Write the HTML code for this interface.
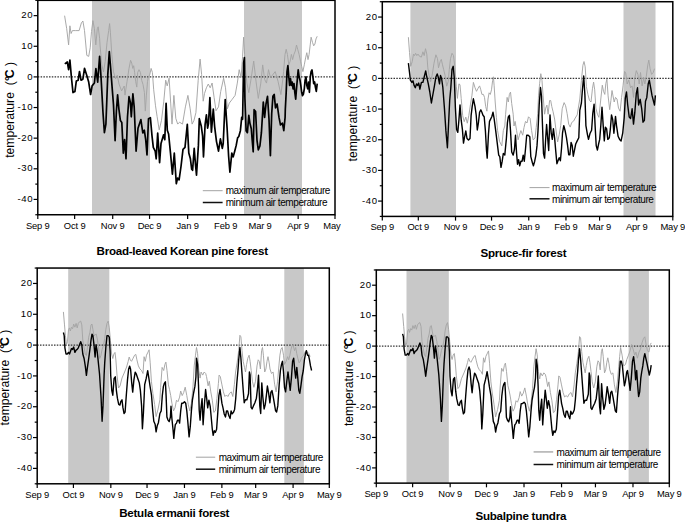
<!DOCTYPE html>
<html><head><meta charset="utf-8"><style>
html,body{margin:0;padding:0;background:#fff;}
svg{display:block;}
text{font-family:"Liberation Sans",sans-serif;fill:#000;}
.tk{font-size:9.4px;letter-spacing:-0.15px;}
.ty{font-size:9.6px;letter-spacing:0.6px;}
.lg{font-size:10px;letter-spacing:-0.42px;}
.yl{font-size:12.2px;}
.tt{font-size:11.6px;font-weight:bold;letter-spacing:-0.25px;}
</style></head><body>
<svg width="685" height="523" viewBox="0 0 685 523">
<rect width="685" height="523" fill="#fff"/>
<rect x="92" y="0.33" width="58" height="214.41" fill="#c8c8c8"/>
<rect x="244" y="0.33" width="58" height="214.41" fill="#c8c8c8"/>
<line x1="37.8" y1="76.9" x2="335" y2="76.9" stroke="#333" stroke-width="1.4" stroke-dasharray="1.5 1.3"/>
<path d="M64.6,15.7 L66.7,28.7 L68.6,44.9 L69.9,25.8 L71.1,33.5 L72.4,30.6 L75.3,30.6 L79.1,30.6 L81.4,22.9 L82.9,21 L84.5,30.6 L86.8,55.4 L88.7,56.4 L90.2,47.8 L91.5,31.5 L92.9,20.6 L94.4,28.7 L95.8,44.9 L97.3,28.7 L98.2,26.8 L99.6,38.2 L100.1,46 L101.8,65 L103.5,71.9 L105.2,61.6 L107,42.6 L108.7,30.5 L109.6,23.6 L110.4,32.2 L111.8,54.7 L113.5,71.9 L115.6,78.8 L117.3,75.3 L119,84 L121.6,90.9 L124.2,86 L125,95.1 L127,81.7 L129,68.4 L130.6,60.3 L131.7,63 L132.8,68.4 L133.7,65.7 L134.6,72.4 L135.7,81.7 L136.8,87.1 L137.7,72.4 L139,69.7 L140.4,72.4 L141.7,80.4 L143,84.4 L144.4,92.4 L145.3,111.1 L146.4,95.1 L147.5,81.7 L148.4,76.4 L149.7,75.1 L151.1,68.4 L152.4,72.4 L153.7,89.8 L155.5,105.8 L157.1,116.5 L159.2,129.9 L161.5,120.3 L163.8,101.2 L165.7,80.2 L167.2,85.9 L169.1,78.2 L170.7,103.1 L172,124.1 L173.9,95.4 L175.8,118.4 L177.7,124.1 L179.6,122.2 L182.5,124.1 L185.4,106.9 L187.9,95.4 L190.2,108.8 L192.1,124.1 L194,120.3 L195.9,112.7 L198.2,80.2 L200.1,59.1 L201.6,74.4 L203.2,101.2 L204.5,93.5 L206.4,87.8 L208.3,84 L210.2,87.8 L212.1,83 L214.1,97.4 L216,110.7 L218.5,106.9 L220.7,91.6 L223.6,78.2 L225.5,87.8 L227.4,108.8 L229.3,103.1 L232.2,99.3 L235.1,95.4 L237.3,83.1 L239.2,69.7 L241.1,77.4 L242.6,56.3 L243.6,37.2 L244.6,54.4 L245.5,69.7 L246.9,83.1 L248.8,92.7 L251.3,77.4 L253.7,61.1 L256,81.2 L258.3,98.4 L260.8,83.1 L262.7,64.9 L264.6,79.3 L266.5,83.1 L268.5,69.7 L270.4,77.4 L272.3,75.4 L275.2,71.6 L278,81.2 L280.9,94.6 L282.8,79.3 L283.6,71.6 L285,54.4 L286.2,49.3 L287.4,54.4 L288.8,64.8 L290.1,61.3 L291.4,54.4 L292.6,59.6 L293.9,54.4 L295.3,51 L296.5,45 L297.7,49.3 L299.1,54.4 L300.5,61.3 L301.7,66.5 L302.9,71.6 L304.3,64.8 L305.6,57.9 L306.8,52.7 L308,59.6 L309.1,54.4 L310.3,44.1 L311.1,37.2 L312.5,42.4 L313.7,45.8 L314.9,44.1 L316,38.9 L317.2,36.3" fill="none" stroke="#a4a4a4" stroke-width="0.95" stroke-linejoin="round"/>
<path d="M64.8,63.9 L67.3,62 L68.6,69.6 L69.9,60.1 L71.5,78.2 L73,92.6 L74.9,91.6 L76.3,81.1 L78.2,80.2 L79.5,71.5 L81,80.2 L82.9,79.2 L84.5,68.3 L86.8,75.4 L88.7,82.1 L90.6,94.5 L92.1,85.9 L94.4,83 L95.9,68.7 L97.7,82.1 L99.6,56.3 L101.1,78.2 L103,112.7 L104.4,132.7 L105.9,124.1 L107.8,74.4 L109.3,51.5 L110.7,68.7 L112,85.9 L113.5,105 L115.1,140.7 L116.4,111 L117.6,94.8 L118.9,109.1 L120.4,120.6 L121.8,122.5 L123.3,153.1 L124.6,139.7 L126,158.8 L127.5,116.8 L129,96.7 L130.4,102.4 L131.3,116.8 L132.9,93.8 L134.2,107.2 L136.1,151.2 L138,128.2 L140.9,119.6 L142.8,133 L144.3,130.2 L145.7,139.7 L147,155 L148.5,118.7 L150.4,117.7 L152,135.9 L153.3,147.4 L155.2,151.2 L156.2,158.8 L157.7,133 L159.6,162.7 L161,143.5 L163.5,134.9 L164.8,139.7 L166.1,103.4 L167.3,130.2 L168.6,134 L170.5,153.1 L172.4,174.1 L174.3,153.1 L176.3,183.7 L177.6,178 L179.1,179.9 L181,166.5 L183,149.3 L185,147.4 L187.3,124.4 L188.8,153.1 L190.4,158.8 L191.7,169.3 L192.6,170.3 L194.2,148.3 L195.5,164.6 L196.5,175.1 L198.4,145.4 L199.3,118.7 L201.3,126.3 L202.6,135.9 L203.5,156.9 L205.1,124.4 L206.4,114.9 L207.6,128.2 L208.5,123.5 L209.9,97.6 L211.4,132.1 L213.3,109.1 L214.6,126.3 L216.5,141.6 L218.5,151.2 L220.4,138.8 L222.3,148.3 L223.2,143.5 L225.2,99.6 L227.1,128.2 L228.6,156 L229.9,172.2 L231.8,153.1 L233.2,156.9 L234.7,151.2 L236.2,145.4 L237.6,137.8 L238.8,136.5 L240.4,130.7 L241.7,117.4 L242.6,119.3 L243.6,63 L244.4,57.5 L244.9,98.2 L246.1,130.7 L247.4,132.7 L248.8,115.4 L249.9,123.1 L251.3,128.8 L252.2,140.3 L253.2,151.8 L254.1,109.7 L255.6,111.6 L257,140.3 L258.3,149.9 L259.9,146 L261.4,132.7 L263.3,102.1 L264.6,117.4 L266,104 L267.5,96.3 L269,119.3 L270.4,155.6 L271.7,113.5 L272.9,96.3 L274.2,94.4 L275.5,107.8 L277.1,104 L279,117.4 L280.5,125 L282.4,123.1 L283.8,130.7 L285.1,117.4 L285.3,109.5 L286.2,92.3 L287,71.6 L287.9,65.6 L288.8,76.8 L289.6,85.4 L290.5,78.5 L291.4,85.4 L292.2,82 L293.1,88.8 L294,83.7 L294.8,92.3 L295.7,99.2 L296.5,88.8 L297.4,78.5 L298.2,69.9 L299.1,76.8 L300,80.2 L300.8,85.4 L301.7,92.3 L302.5,95.7 L303.4,94 L304.3,88.8 L305.1,80.2 L306,76.8 L306.8,85.4 L307.7,88.8 L308.6,82 L309.4,92.3 L310.3,76.8 L311.1,71.6 L312,69.9 L312.9,76.8 L313.7,83.7 L314.6,82 L315.4,87.1 L316.3,91.4 L317.2,83.7" fill="none" stroke="#000" stroke-width="1.7" stroke-linejoin="round"/>
<rect x="37.8" y="0.33" width="297.2" height="214.41" fill="none" stroke="#000" stroke-width="1.5"/>
<line x1="35.3" y1="214.74" x2="37.8" y2="214.74" stroke="#000" stroke-width="1.2"/>
<line x1="33.6" y1="199.42" x2="37.8" y2="199.42" stroke="#000" stroke-width="1.2"/>
<text x="33.2" y="202.07" class="ty" text-anchor="end">-40</text>
<line x1="35.3" y1="184.11" x2="37.8" y2="184.11" stroke="#000" stroke-width="1.2"/>
<line x1="33.6" y1="168.79" x2="37.8" y2="168.79" stroke="#000" stroke-width="1.2"/>
<text x="33.2" y="171.44" class="ty" text-anchor="end">-30</text>
<line x1="35.3" y1="153.48" x2="37.8" y2="153.48" stroke="#000" stroke-width="1.2"/>
<line x1="33.6" y1="138.16" x2="37.8" y2="138.16" stroke="#000" stroke-width="1.2"/>
<text x="33.2" y="140.81" class="ty" text-anchor="end">-20</text>
<line x1="35.3" y1="122.84" x2="37.8" y2="122.84" stroke="#000" stroke-width="1.2"/>
<line x1="33.6" y1="107.53" x2="37.8" y2="107.53" stroke="#000" stroke-width="1.2"/>
<text x="33.2" y="110.18" class="ty" text-anchor="end">-10</text>
<line x1="35.3" y1="92.22" x2="37.8" y2="92.22" stroke="#000" stroke-width="1.2"/>
<line x1="33.6" y1="76.9" x2="37.8" y2="76.9" stroke="#000" stroke-width="1.2"/>
<text x="33.2" y="79.55" class="ty" text-anchor="end">0</text>
<line x1="35.3" y1="61.59" x2="37.8" y2="61.59" stroke="#000" stroke-width="1.2"/>
<line x1="33.6" y1="46.27" x2="37.8" y2="46.27" stroke="#000" stroke-width="1.2"/>
<text x="33.2" y="48.92" class="ty" text-anchor="end">10</text>
<line x1="35.3" y1="30.96" x2="37.8" y2="30.96" stroke="#000" stroke-width="1.2"/>
<line x1="33.6" y1="15.64" x2="37.8" y2="15.64" stroke="#000" stroke-width="1.2"/>
<text x="33.2" y="18.29" class="ty" text-anchor="end">20</text>
<line x1="35.3" y1="0.33" x2="37.8" y2="0.33" stroke="#000" stroke-width="1.2"/>
<line x1="37.8" y1="214.74" x2="37.8" y2="218.94" stroke="#000" stroke-width="1.2"/>
<text x="37.8" y="228.74" class="tk" text-anchor="middle">Sep 9</text>
<line x1="74.64" y1="214.74" x2="74.64" y2="218.94" stroke="#000" stroke-width="1.2"/>
<text x="74.64" y="228.74" class="tk" text-anchor="middle">Oct 9</text>
<line x1="112.71" y1="214.74" x2="112.71" y2="218.94" stroke="#000" stroke-width="1.2"/>
<text x="112.71" y="228.74" class="tk" text-anchor="middle">Nov 9</text>
<line x1="149.56" y1="214.74" x2="149.56" y2="218.94" stroke="#000" stroke-width="1.2"/>
<text x="149.56" y="228.74" class="tk" text-anchor="middle">Dec 9</text>
<line x1="187.63" y1="214.74" x2="187.63" y2="218.94" stroke="#000" stroke-width="1.2"/>
<text x="187.63" y="228.74" class="tk" text-anchor="middle">Jan 9</text>
<line x1="225.7" y1="214.74" x2="225.7" y2="218.94" stroke="#000" stroke-width="1.2"/>
<text x="225.7" y="228.74" class="tk" text-anchor="middle">Feb 9</text>
<line x1="260.09" y1="214.74" x2="260.09" y2="218.94" stroke="#000" stroke-width="1.2"/>
<text x="260.09" y="228.74" class="tk" text-anchor="middle">Mar 9</text>
<line x1="298.16" y1="214.74" x2="298.16" y2="218.94" stroke="#000" stroke-width="1.2"/>
<text x="298.16" y="228.74" class="tk" text-anchor="middle">Apr 9</text>
<line x1="335" y1="214.74" x2="335" y2="218.94" stroke="#000" stroke-width="1.2"/>
<text x="323.3" y="228.74" class="tk">May</text>
<line x1="202.8" y1="190.7" x2="222.6" y2="190.7" stroke="#999" stroke-width="0.9"/>
<line x1="202.8" y1="202.5" x2="222.6" y2="202.5" stroke="#111" stroke-width="1.5"/>
<text x="225.7" y="194.4" class="lg">maximum air temperature</text>
<text x="225.7" y="206.2" class="lg">minimum air temperature</text>
<text transform="translate(14,157.8) rotate(-90)" class="yl" xml:space="preserve" style="white-space:pre">temperature  (<tspan dx="0.3" font-weight="bold">°</tspan><tspan dx="-2.2" font-weight="bold">C</tspan> )</text>
<text x="182.2" y="254.5" class="tt" text-anchor="middle">Broad-leaved Korean pine forest</text>
<rect x="410.4" y="1.72" width="45.6" height="214.69" fill="#c8c8c8"/>
<rect x="623.5" y="1.72" width="32" height="214.69" fill="#c8c8c8"/>
<line x1="382.3" y1="78.4" x2="672.8" y2="78.4" stroke="#333" stroke-width="1.4" stroke-dasharray="1.5 1.3"/>
<path d="M408.4,37.2 L409.5,52.5 L410.7,66.3 L412.2,61.7 L413.5,54.1 L414.5,55.6 L415.6,53.3 L416.8,55.6 L418,54.1 L419.6,56.4 L421.4,57.1 L422.9,51.8 L424.2,55.6 L425.5,48.7 L426.8,54.1 L427.8,67.8 L429.1,75.5 L430.6,81.6 L432.1,75.5 L434,63.2 L435.9,54.8 L437.5,58.7 L438.5,67.8 L440.1,61.7 L441.3,59.4 L442.5,64.8 L443.6,69.4 L445.1,75.5 L446.7,86.2 L448.2,81.6 L449.3,69.4 L450.5,58.7 L452,53.3 L453.5,55.6 L455.1,69.4 L456.3,86.2 L457.4,98.4 L458.9,83.9 L460,84.7 L461.2,98.4 L462.7,115.6 L464.2,121.7 L465.8,117.1 L467.3,123.2 L468.8,115.6 L470.4,104.9 L471.9,95.7 L473.4,82.4 L475,87.7 L476.5,91.3 L478.1,88.2 L479.6,85.9 L480.8,89.8 L481.9,94.4 L483.4,94.4 L484.5,97.4 L485.7,106.6 L486.9,111.2 L488,99 L489.1,92.8 L490.3,94.4 L491.5,89.8 L492.6,80.6 L493.4,76.8 L494.1,85.2 L495.2,102 L496.4,117.3 L497.6,130.6 L499.5,141.3 L501.8,145.9 L503.3,130.6 L504.8,126 L505.6,114.2 L507.1,97.4 L508.3,102 L509.4,94.4 L510.5,92.1 L511.7,103.5 L513.2,114.2 L514,126 L515.1,121.4 L516.6,130.6 L518.1,139.8 L519.4,135.2 L520.9,130.6 L522.7,135.2 L524,127.5 L525.5,121.4 L527,123 L528.5,116.8 L530.1,118.4 L531.6,130.6 L533.1,139.8 L535,138.2 L536.2,127.5 L537.7,113.8 L538.5,95.9 L539.6,83.7 L540.8,73.7 L542,80.6 L543.1,95.9 L544.6,114.2 L545.7,108.1 L546.9,105.1 L548.1,114.2 L549.6,100.5 L550.7,100.5 L551.8,106.6 L553.1,111.8 L554.6,119 L556.1,131 L557.6,142 L559.2,134.8 L560.7,125.6 L562.2,108.8 L564.1,102.6 L565.6,105.7 L567.1,113.4 L568.7,124.1 L570.2,127.1 L571.7,122.5 L573.7,121 L575.2,118 L577.2,114.9 L578.3,108.1 L579.8,99 L581.4,80.6 L582.9,65.3 L584,61.5 L585.2,66.8 L586.4,86.7 L587.9,94.4 L589.5,100.5 L591,102 L592.5,88.2 L593.6,82.1 L594.7,89.8 L595.9,108.1 L597.4,114.2 L598.9,117.3 L600.8,99 L602.3,85.2 L603.5,91.3 L604.8,94.4 L605.8,83.7 L606.9,79.1 L608.1,95.9 L609.7,109.7 L610.9,100.5 L612,90.5 L613,95.9 L614.2,102 L615.5,97.4 L617,99 L618.5,108.1 L620.1,111.2 L621.6,97.4 L623.1,85.2 L624.6,71.4 L625.7,72.9 L627.2,84 L628.8,80 L630.6,87.8 L632.1,85.9 L633.5,97.4 L634.8,78.2 L636.3,70.6 L637.9,74.4 L639.2,84 L640.5,72.5 L642.1,85.9 L643.6,78.2 L644.9,84 L646.3,76.3 L647.8,64.9 L648.8,60.1 L650.1,68.7 L651.6,74.4 L653.2,72.5 L654.5,68.7" fill="none" stroke="#a4a4a4" stroke-width="0.95" stroke-linejoin="round"/>
<path d="M408.4,63.2 L409.5,72.4 L410.4,80.1 L411.9,82.4 L413,80.8 L414.1,85.4 L415.3,87.7 L416.5,83.9 L417.6,85.4 L418.7,83.1 L419.9,89.2 L421.4,82.4 L422.9,82.4 L424.2,77 L425.7,70.9 L426.8,77 L428.3,83.9 L429.8,92 L431.4,103 L432.9,94.5 L434.4,86.2 L435.9,77 L437.2,73.9 L438.2,77 L439.5,83.9 L440.5,75.5 L441.6,78.5 L442.8,87 L444.4,107.9 L445.9,130.9 L447.4,147.7 L448.6,123.2 L449.7,100.3 L450.8,88.1 L452,69.4 L453.2,66.3 L454.3,78 L455.4,107.9 L456.6,129.4 L457.8,132.4 L458.9,120.2 L460,104.9 L461.2,120.2 L462.4,129.4 L463.5,143.1 L464.6,137 L465.8,130.9 L467,138.5 L468.5,140.1 L470,138.5 L471.1,115.6 L472.2,106.4 L473.4,98.8 L475,106.4 L476.2,115 L477.3,130 L478.4,123 L479.6,112.2 L480.8,109.9 L481.9,112.2 L483,115.3 L484.2,116.8 L485.4,130.6 L486.5,150.5 L487.2,158.1 L488.5,133.7 L489.5,121.4 L490.6,119.1 L491.8,116.8 L493,112.2 L494.1,118.4 L495.7,130.6 L497.2,142.8 L498.7,155.1 L499.8,156.6 L501,167.3 L502.2,161.2 L503.3,153.5 L504.8,155.1 L506.4,138.2 L507.4,122.9 L508.3,116.8 L509.4,115.3 L510.5,130.6 L511.7,152 L513.2,155.1 L514.5,149 L515.5,135.2 L516.6,153.5 L517.5,164.2 L518.6,159.7 L519.7,165.8 L520.9,161.2 L522.1,161.2 L523.2,155.1 L524.3,161.2 L525.5,149 L526.7,135.2 L528.2,135.2 L529.8,136.7 L530.8,156.6 L532.4,162.7 L533.4,165.8 L534.7,161.2 L535.9,155.1 L537,145.9 L538,130.6 L539.2,105 L540.5,87.5 L541.5,96 L542.3,120 L543.5,153.5 L544.6,158.1 L545.7,138.2 L546.6,124.5 L547.7,138.2 L548.7,150.5 L550,114.9 L551.2,133.2 L552.3,139.4 L553.4,128.7 L554.6,137.8 L555.8,151.6 L556.9,163.8 L558,160.8 L559.2,157.7 L560.4,160.8 L561.5,148.5 L562.5,133.2 L563.8,125.6 L565,130.2 L566.5,137.8 L567.6,145.5 L568.7,154.7 L569.9,154.7 L571.1,142.4 L572.2,145.5 L573.3,156.2 L574.5,150.1 L575.7,144 L577.2,140.9 L578.8,137.8 L579.8,110.3 L581.4,103 L582.4,90 L583.7,76 L584.9,95 L585.9,125.6 L587.5,134.8 L588.5,139.4 L590.1,133.2 L591.6,130.2 L592.8,113.4 L594.1,104.2 L595.1,125.6 L596.2,145.5 L597.4,150.1 L598.6,144 L599.7,139.4 L600.8,125.6 L602,107.2 L603.2,125.6 L604.3,140.9 L605.4,127.1 L606.6,128.7 L607.8,139.4 L609.3,137.8 L610.4,128.7 L611.5,114.9 L612.7,119.5 L613.9,133.2 L615.5,116.4 L616.5,125.6 L618.1,136.3 L619.6,139.4 L621.1,140.9 L622.7,133.2 L624.2,117.9 L625.3,98.1 L626.5,92 L627.7,105 L629.2,117 L630.6,118.4 L632.1,108.8 L633.5,124.1 L634.8,112.7 L636.3,93.5 L637.5,87.8 L638.6,105 L640.2,99.3 L641.7,108.8 L643,122.2 L644.4,120.3 L645.5,101.2 L646.8,97.4 L648.2,84 L649.3,80.2 L650.7,87.8 L652,95.4 L653.5,101.2 L654.5,105 L655.4,95.4" fill="none" stroke="#000" stroke-width="1.4" stroke-linejoin="round"/>
<rect x="382.3" y="1.72" width="290.5" height="214.69" fill="none" stroke="#000" stroke-width="1.5"/>
<line x1="379.8" y1="216.42" x2="382.3" y2="216.42" stroke="#000" stroke-width="1.2"/>
<line x1="378.1" y1="201.08" x2="382.3" y2="201.08" stroke="#000" stroke-width="1.2"/>
<text x="377.7" y="203.73" class="ty" text-anchor="end">-40</text>
<line x1="379.8" y1="185.75" x2="382.3" y2="185.75" stroke="#000" stroke-width="1.2"/>
<line x1="378.1" y1="170.41" x2="382.3" y2="170.41" stroke="#000" stroke-width="1.2"/>
<text x="377.7" y="173.06" class="ty" text-anchor="end">-30</text>
<line x1="379.8" y1="155.08" x2="382.3" y2="155.08" stroke="#000" stroke-width="1.2"/>
<line x1="378.1" y1="139.74" x2="382.3" y2="139.74" stroke="#000" stroke-width="1.2"/>
<text x="377.7" y="142.39" class="ty" text-anchor="end">-20</text>
<line x1="379.8" y1="124.41" x2="382.3" y2="124.41" stroke="#000" stroke-width="1.2"/>
<line x1="378.1" y1="109.07" x2="382.3" y2="109.07" stroke="#000" stroke-width="1.2"/>
<text x="377.7" y="111.72" class="ty" text-anchor="end">-10</text>
<line x1="379.8" y1="93.74" x2="382.3" y2="93.74" stroke="#000" stroke-width="1.2"/>
<line x1="378.1" y1="78.4" x2="382.3" y2="78.4" stroke="#000" stroke-width="1.2"/>
<text x="377.7" y="81.05" class="ty" text-anchor="end">0</text>
<line x1="379.8" y1="63.07" x2="382.3" y2="63.07" stroke="#000" stroke-width="1.2"/>
<line x1="378.1" y1="47.73" x2="382.3" y2="47.73" stroke="#000" stroke-width="1.2"/>
<text x="377.7" y="50.38" class="ty" text-anchor="end">10</text>
<line x1="379.8" y1="32.4" x2="382.3" y2="32.4" stroke="#000" stroke-width="1.2"/>
<line x1="378.1" y1="17.06" x2="382.3" y2="17.06" stroke="#000" stroke-width="1.2"/>
<text x="377.7" y="19.71" class="ty" text-anchor="end">20</text>
<line x1="379.8" y1="1.72" x2="382.3" y2="1.72" stroke="#000" stroke-width="1.2"/>
<line x1="382.3" y1="216.42" x2="382.3" y2="220.62" stroke="#000" stroke-width="1.2"/>
<text x="382.3" y="230.42" class="tk" text-anchor="middle">Sep 9</text>
<line x1="418.31" y1="216.42" x2="418.31" y2="220.62" stroke="#000" stroke-width="1.2"/>
<text x="418.31" y="230.42" class="tk" text-anchor="middle">Oct 9</text>
<line x1="455.53" y1="216.42" x2="455.53" y2="220.62" stroke="#000" stroke-width="1.2"/>
<text x="455.53" y="230.42" class="tk" text-anchor="middle">Nov 9</text>
<line x1="491.54" y1="216.42" x2="491.54" y2="220.62" stroke="#000" stroke-width="1.2"/>
<text x="491.54" y="230.42" class="tk" text-anchor="middle">Dec 9</text>
<line x1="528.75" y1="216.42" x2="528.75" y2="220.62" stroke="#000" stroke-width="1.2"/>
<text x="528.75" y="230.42" class="tk" text-anchor="middle">Jan 9</text>
<line x1="565.96" y1="216.42" x2="565.96" y2="220.62" stroke="#000" stroke-width="1.2"/>
<text x="565.96" y="230.42" class="tk" text-anchor="middle">Feb 9</text>
<line x1="599.57" y1="216.42" x2="599.57" y2="220.62" stroke="#000" stroke-width="1.2"/>
<text x="599.57" y="230.42" class="tk" text-anchor="middle">Mar 9</text>
<line x1="636.79" y1="216.42" x2="636.79" y2="220.62" stroke="#000" stroke-width="1.2"/>
<text x="636.79" y="230.42" class="tk" text-anchor="middle">Apr 9</text>
<line x1="672.8" y1="216.42" x2="672.8" y2="220.62" stroke="#000" stroke-width="1.2"/>
<text x="672.8" y="230.42" class="tk" text-anchor="middle">May 9</text>
<line x1="529.5" y1="187.6" x2="549.5" y2="187.6" stroke="#999" stroke-width="0.9"/>
<line x1="529.5" y1="198.8" x2="549.5" y2="198.8" stroke="#111" stroke-width="1.5"/>
<text x="552" y="191.3" class="lg">maximum air temperature</text>
<text x="552" y="202.5" class="lg">minimum air temperature</text>
<text transform="translate(357.2,161.5) rotate(-90)" class="yl" xml:space="preserve" style="white-space:pre">temperature  (<tspan dx="0.3" font-weight="bold">°</tspan><tspan dx="-2.2" font-weight="bold">C</tspan> )</text>
<text x="523.4" y="256.9" class="tt" text-anchor="middle">Spruce-fir forest</text>
<rect x="68.2" y="268.05" width="41.1" height="215.74" fill="#c8c8c8"/>
<rect x="284.3" y="268.05" width="19.6" height="215.74" fill="#c8c8c8"/>
<line x1="37.2" y1="345.1" x2="329.3" y2="345.1" stroke="#333" stroke-width="1.4" stroke-dasharray="1.5 1.3"/>
<path d="M63.4,311.9 L64.5,324.9 L65.4,335.6 L66.5,344.8 L67.5,341.7 L68.5,329.5 L69.5,327.9 L70.3,331 L71.5,327.2 L72.6,328.7 L73.7,324.1 L74.9,327.2 L76.1,323.4 L77.2,327.9 L78.3,323.4 L79.5,321.8 L80.7,321.1 L81.8,324.9 L82.8,340.2 L84.1,347.8 L85.3,354 L86.4,355.5 L87.4,347.8 L88.7,337.1 L89.9,332.5 L91,324.9 L92,324.1 L92.9,329.5 L94,335.6 L95.1,334.8 L96.3,334.1 L97.5,340.2 L98.6,347.8 L99.7,358.5 L100.9,355.5 L102.1,349.4 L103.6,344.8 L104.7,338.7 L105.8,329.5 L107,323.4 L108.2,321.1 L109.3,327.9 L110.4,340.2 L111.6,354 L112.8,358.5 L113.9,354 L115,352.4 L115.9,360.1 L117,375 L118.5,388 L120,386 L122,378 L124.6,372 L126.6,367 L128.1,361.6 L129.2,357 L130.3,360.1 L131.5,361.3 L133.1,358.2 L134.6,355.2 L135.8,354.4 L136.9,359.8 L138.4,365.9 L139.9,368.9 L141.5,370.5 L143,373.5 L144.1,356.7 L145.3,361.3 L146.5,355.2 L148,352.1 L149.1,349.8 L150.2,362.8 L151.4,381.2 L152.9,393.4 L154.6,404.4 L156.1,416.6 L158.1,409 L159.9,399.8 L160.6,387.3 L162.1,367.4 L163.7,370.5 L164.9,364.4 L165.9,362.1 L167,370.5 L168.4,384.9 L169.5,389.5 L170.7,395.6 L171.9,403.2 L173.5,410.9 L175,407.8 L176.5,400.2 L178,401.7 L179.6,397.1 L180.7,391 L182.2,395.6 L183.7,392.5 L185.2,387.2 L186.8,395.6 L188.3,404.8 L189.8,410.9 L191.4,403.2 L192.9,388 L194.2,365.9 L195.5,355.2 L196.5,347.5 L197.6,353.7 L198.8,370.5 L200.1,378.1 L201.1,372 L202.7,375.1 L204.2,372 L205.7,373.5 L206.5,376.6 L208.1,385.8 L209.3,381.2 L210.8,391.9 L212.3,400.2 L213.8,412.4 L215.4,410.9 L216.9,398.7 L218.4,383.4 L219.1,375.1 L220.3,376.6 L221.8,384.2 L223.4,391.9 L224.9,396.5 L226.4,395 L227.9,396.5 L229.5,393.4 L231.3,391.9 L232.8,396.5 L234.4,384.2 L235.6,372 L237.1,362.8 L238.7,350.6 L239.9,335.3 L240.9,336.8 L242,350.6 L243.2,361.3 L244.5,367.4 L245.5,372 L246.6,364.4 L247.8,358.2 L249.1,355.2 L250.1,361.3 L251.2,370.5 L252.4,381.2 L253.9,387.3 L255.5,381.2 L257,365.9 L258.2,359.8 L259.3,361.3 L260.4,369 L261.6,350.6 L262.5,347.5 L263.4,355.2 L264.7,372 L265.9,369 L267,361.3 L268,356.7 L269.2,362.8 L270,369 L271.5,373.5 L273.1,372 L274.6,384.2 L276.1,391.9 L277.6,381.2 L278.9,365.9 L279.9,355.2 L281,349.1 L282.2,347.5 L283.5,355.2 L284.5,364.4 L286.1,361.3 L287.6,356.7 L288.7,359.8 L289.9,355.2 L291.1,349.1 L292.2,345.2 L293.3,346 L294.5,350.6 L295.7,347.5 L296.8,353.7 L297.8,358.2 L299.1,362.8 L300.3,361.3 L301.4,358.2 L302.4,356.7 L303.7,355.2 L304.9,352.1 L305.9,350.6 L307.5,352.1 L309,353.7 L310.1,356.7" fill="none" stroke="#a4a4a4" stroke-width="0.95" stroke-linejoin="round"/>
<path d="M63.4,332.5 L64.2,335.6 L64.9,347.8 L66,354 L67.2,354 L68.5,352.4 L69.5,354 L70.6,350.9 L71.5,348.6 L72.6,349.4 L73.7,347.1 L74.9,352.4 L76.1,350.1 L77.2,349.4 L78.3,347.8 L79.5,344.8 L80.7,341.7 L81.8,344.8 L82.8,354 L84.1,358.5 L85.3,366.2 L86.4,375.4 L87.4,367.7 L88.7,358.5 L89.9,349.4 L91,340.2 L92,334.1 L92.9,335.6 L94,344.8 L95.1,357 L96,344.8 L97.1,350.9 L98.1,360.1 L99.5,373.8 L101.1,398.2 L102.1,421.2 L103,405.9 L104.1,375.3 L104.7,363.1 L105.8,347.8 L107,335.6 L108.2,335.6 L109.3,337.1 L110.1,350.9 L110.7,375.3 L111.8,390.6 L112.8,395.2 L114.1,378.4 L115.3,376.8 L116.4,390.6 L117.4,398.2 L118.7,404.4 L119.9,405.1 L120.9,401.3 L122,399.8 L122.9,407.4 L124,413.5 L125.1,412 L126.3,395.2 L127.5,379.9 L128.6,369.2 L129.7,366.1 L130.6,369.2 L131.7,382.9 L132.7,392.1 L133.9,379.9 L135.2,372.2 L136.2,373.8 L137.8,378.4 L139.3,382.9 L140.4,390.6 L141.6,405.9 L142.4,428.8 L143.4,413.5 L144.7,384.5 L146.2,378.4 L147.7,370.7 L148.9,378.4 L150,386 L151.5,395.2 L152.6,409 L153.8,421.2 L155.1,424.2 L156.1,431.9 L157.2,425.8 L158.4,422.7 L159.9,413.5 L161.2,410.9 L162.3,395.6 L163.4,386.4 L164.3,383.4 L165.4,381.8 L166.1,395.6 L166.9,417 L168,420.1 L169.2,421.6 L170.4,417 L171,406.3 L171.9,418.5 L173,429.2 L173.8,438.4 L174.5,430.8 L175.3,424.7 L176.5,423.1 L177.6,420.1 L178.7,420.1 L179.6,423.1 L180.7,410.9 L181.7,403.2 L182.9,403.2 L184.5,401.7 L185.7,403.2 L186.8,410.9 L187.8,421.6 L189.1,436.9 L190.3,426.2 L191.4,410.9 L192.4,400.2 L193.7,392.5 L194.9,386.4 L195.9,377.2 L196.5,358.2 L197.6,364.4 L198.5,385 L199.2,410 L200.1,420.1 L201,407.8 L202.1,398.7 L203.1,424.7 L204.4,404.8 L205.6,389.5 L206.7,398.7 L207.7,407.8 L208.9,400.2 L210.2,406.3 L211.2,417 L212.3,429.2 L213.2,435.4 L214.3,430.8 L215.4,432.3 L216.6,429.2 L217.8,412.4 L218.9,395.6 L220,389.5 L220.9,395.6 L221.9,403.2 L223,407.8 L224.2,413.9 L225.5,417 L226.5,410.9 L227.6,410.9 L228.8,415.5 L230.1,418.5 L231.1,410.9 L232.2,413.9 L233.4,412.4 L234.6,409.4 L235.7,398.7 L236.8,383.4 L238,370 L238.7,359.8 L239.9,347.5 L240.9,358.2 L242,373.5 L243.2,390 L244.2,402.8 L245.4,399.8 L246.9,399.8 L248.5,393.7 L249.4,372 L250.1,375 L251.1,407.4 L252.1,409 L253.4,405.9 L254.9,402.8 L256.4,398.2 L257.6,387.5 L258.5,375.2 L259.8,405.9 L260.7,413.5 L261.8,382.9 L262.8,396.7 L264.1,409 L265.3,404.4 L266.4,395.2 L267.4,386 L268.7,393.7 L269.9,402.8 L270.9,392.1 L272,390.6 L273.2,396.7 L274.5,404.4 L275.5,410.5 L276.6,412 L277.8,405.9 L279.2,384.2 L280.4,370.5 L281.5,364.4 L282.5,361.3 L283.5,372 L284.5,387.3 L285.6,391.9 L286.8,381.2 L288,372 L289.1,381.2 L290.2,390.4 L291.4,378.1 L292.6,361.3 L293.7,358.2 L294.8,370.5 L295.7,378.1 L296.8,367.4 L297.8,378.1 L298.8,390.4 L299.8,393.4 L300.9,385.8 L302.1,376.6 L303.3,370.5 L304.4,359.8 L305.5,353.7 L306.4,350.6 L307.5,355.2 L308.5,355.2 L309.5,359.8 L310.5,365.9 L311.6,370.5" fill="none" stroke="#000" stroke-width="1.4" stroke-linejoin="round"/>
<rect x="37.2" y="268.05" width="292.1" height="215.74" fill="none" stroke="#000" stroke-width="1.5"/>
<line x1="34.7" y1="483.79" x2="37.2" y2="483.79" stroke="#000" stroke-width="1.2"/>
<line x1="33" y1="468.38" x2="37.2" y2="468.38" stroke="#000" stroke-width="1.2"/>
<text x="32.6" y="471.03" class="ty" text-anchor="end">-40</text>
<line x1="34.7" y1="452.97" x2="37.2" y2="452.97" stroke="#000" stroke-width="1.2"/>
<line x1="33" y1="437.56" x2="37.2" y2="437.56" stroke="#000" stroke-width="1.2"/>
<text x="32.6" y="440.21" class="ty" text-anchor="end">-30</text>
<line x1="34.7" y1="422.15" x2="37.2" y2="422.15" stroke="#000" stroke-width="1.2"/>
<line x1="33" y1="406.74" x2="37.2" y2="406.74" stroke="#000" stroke-width="1.2"/>
<text x="32.6" y="409.39" class="ty" text-anchor="end">-20</text>
<line x1="34.7" y1="391.33" x2="37.2" y2="391.33" stroke="#000" stroke-width="1.2"/>
<line x1="33" y1="375.92" x2="37.2" y2="375.92" stroke="#000" stroke-width="1.2"/>
<text x="32.6" y="378.57" class="ty" text-anchor="end">-10</text>
<line x1="34.7" y1="360.51" x2="37.2" y2="360.51" stroke="#000" stroke-width="1.2"/>
<line x1="33" y1="345.1" x2="37.2" y2="345.1" stroke="#000" stroke-width="1.2"/>
<text x="32.6" y="347.75" class="ty" text-anchor="end">0</text>
<line x1="34.7" y1="329.69" x2="37.2" y2="329.69" stroke="#000" stroke-width="1.2"/>
<line x1="33" y1="314.28" x2="37.2" y2="314.28" stroke="#000" stroke-width="1.2"/>
<text x="32.6" y="316.93" class="ty" text-anchor="end">10</text>
<line x1="34.7" y1="298.87" x2="37.2" y2="298.87" stroke="#000" stroke-width="1.2"/>
<line x1="33" y1="283.46" x2="37.2" y2="283.46" stroke="#000" stroke-width="1.2"/>
<text x="32.6" y="286.11" class="ty" text-anchor="end">20</text>
<line x1="34.7" y1="268.05" x2="37.2" y2="268.05" stroke="#000" stroke-width="1.2"/>
<line x1="37.2" y1="483.79" x2="37.2" y2="487.99" stroke="#000" stroke-width="1.2"/>
<text x="37.2" y="497.79" class="tk" text-anchor="middle">Sep 9</text>
<line x1="73.41" y1="483.79" x2="73.41" y2="487.99" stroke="#000" stroke-width="1.2"/>
<text x="73.41" y="497.79" class="tk" text-anchor="middle">Oct 9</text>
<line x1="110.83" y1="483.79" x2="110.83" y2="487.99" stroke="#000" stroke-width="1.2"/>
<text x="110.83" y="497.79" class="tk" text-anchor="middle">Nov 9</text>
<line x1="147.04" y1="483.79" x2="147.04" y2="487.99" stroke="#000" stroke-width="1.2"/>
<text x="147.04" y="497.79" class="tk" text-anchor="middle">Dec 9</text>
<line x1="184.46" y1="483.79" x2="184.46" y2="487.99" stroke="#000" stroke-width="1.2"/>
<text x="184.46" y="497.79" class="tk" text-anchor="middle">Jan 9</text>
<line x1="221.87" y1="483.79" x2="221.87" y2="487.99" stroke="#000" stroke-width="1.2"/>
<text x="221.87" y="497.79" class="tk" text-anchor="middle">Feb 9</text>
<line x1="255.67" y1="483.79" x2="255.67" y2="487.99" stroke="#000" stroke-width="1.2"/>
<text x="255.67" y="497.79" class="tk" text-anchor="middle">Mar 9</text>
<line x1="293.09" y1="483.79" x2="293.09" y2="487.99" stroke="#000" stroke-width="1.2"/>
<text x="293.09" y="497.79" class="tk" text-anchor="middle">Apr 9</text>
<line x1="329.3" y1="483.79" x2="329.3" y2="487.99" stroke="#000" stroke-width="1.2"/>
<text x="329.3" y="497.79" class="tk" text-anchor="middle">May 9</text>
<line x1="195.9" y1="457.2" x2="215.2" y2="457.2" stroke="#999" stroke-width="0.9"/>
<line x1="195.9" y1="469.2" x2="215.2" y2="469.2" stroke="#111" stroke-width="1.5"/>
<text x="218.7" y="460.9" class="lg">maximum air temperature</text>
<text x="218.7" y="472.9" class="lg">minimum air temperature</text>
<text transform="translate(9.3,425.5) rotate(-90)" class="yl" xml:space="preserve" style="white-space:pre">temperature  (<tspan dx="0.3" font-weight="bold">°</tspan><tspan dx="-2.2" font-weight="bold">C</tspan> )</text>
<text x="174.2" y="516.7" class="tt" text-anchor="middle">Betula ermanii forest</text>
<rect x="406.5" y="269.98" width="42.3" height="213.15" fill="#c8c8c8"/>
<rect x="628.6" y="269.98" width="20.3" height="213.15" fill="#c8c8c8"/>
<line x1="376.3" y1="346.1" x2="669.3" y2="346.1" stroke="#333" stroke-width="1.4" stroke-dasharray="1.5 1.3"/>
<path d="M402.6,313.5 L403.7,326.4 L404.6,336.9 L405.7,346 L406.7,343 L407.7,330.9 L408.7,329.3 L409.5,332.4 L410.7,328.6 L411.8,330.1 L412.9,325.6 L414.1,328.6 L415.3,324.9 L416.4,329.3 L417.5,324.9 L418.7,323.3 L419.9,322.6 L421,326.4 L422,341.5 L423.3,349 L424.5,355.1 L425.7,356.6 L426.7,349 L428,338.4 L429.2,333.9 L430.3,326.4 L431.3,325.6 L432.2,330.9 L433.3,336.9 L434.4,336.1 L435.6,335.4 L436.8,341.5 L437.9,349 L439,359.5 L440.2,356.6 L441.4,350.6 L442.9,346 L444,340 L445.1,330.9 L446.3,324.9 L447.5,322.6 L448.6,329.3 L449.7,341.5 L450.9,355.1 L452.1,359.5 L453.2,355.1 L454.3,353.5 L455.2,361.1 L456.3,375.8 L457.9,388.6 L459.4,386.7 L461.4,378.8 L464,372.9 L466,367.9 L467.5,362.6 L468.6,358.1 L469.7,361.1 L470.9,362.3 L472.5,359.2 L474,356.3 L475.2,355.5 L476.3,360.8 L477.8,366.8 L479.3,369.8 L480.9,371.4 L482.4,374.3 L483.5,357.8 L484.7,362.3 L485.9,356.3 L487.4,353.2 L488.5,350.9 L489.6,363.8 L490.9,381.9 L492.4,394 L494.1,404.8 L495.6,416.9 L497.6,409.4 L499.4,400.3 L500.1,388 L501.6,368.3 L503.2,371.4 L504.4,365.4 L505.4,363.1 L506.5,371.4 L507.9,385.6 L509,390.1 L510.2,396.1 L511.4,403.6 L513,411.2 L514.5,408.2 L516,400.7 L517.5,402.2 L519.1,397.6 L520.2,391.6 L521.7,396.1 L523.3,393.1 L524.8,387.9 L526.4,396.1 L527.9,405.2 L529.4,411.2 L531,403.6 L532.5,388.6 L533.8,366.8 L535.1,356.3 L536.1,348.7 L537.2,354.8 L538.4,371.4 L539.7,378.9 L540.7,372.9 L542.3,375.9 L543.8,372.9 L545.3,374.3 L546.1,377.4 L547.7,386.5 L548.9,381.9 L550.4,392.5 L551.9,400.7 L553.4,412.7 L555,411.2 L556.6,399.2 L558.1,384.1 L558.8,375.9 L560,377.4 L561.5,384.9 L563.1,392.5 L564.6,397 L566.1,395.6 L567.6,397 L569.2,394 L571,392.5 L572.5,397 L574.1,384.9 L575.3,372.9 L576.8,363.8 L578.4,351.7 L579.6,336.6 L580.6,338.1 L581.7,351.7 L582.9,362.3 L584.2,368.3 L585.2,372.9 L586.3,365.4 L587.5,359.2 L588.9,356.3 L589.9,362.3 L591,371.4 L592.2,381.9 L593.7,388 L595.3,381.9 L596.8,366.8 L598,360.8 L599.1,362.3 L600.2,369.9 L601.4,351.7 L602.3,348.7 L603.2,356.3 L604.5,372.9 L605.7,369.9 L606.8,362.3 L607.8,357.8 L609,363.8 L609.8,369.9 L611.3,374.3 L612.9,372.9 L614.4,384.9 L615.9,392.5 L617.4,381.9 L618.7,366.8 L619.7,356.3 L620.6,347.5 L622.1,355.2 L623.7,365.9 L625.5,364.4 L626.7,359.8 L628.5,355.2 L630.1,350.6 L631.6,344.5 L633.1,349.1 L634.7,355.2 L635.9,352.1 L637.4,358.2 L639,352.1 L640.5,349.1 L642,342.9 L643.5,338.4 L644.8,336.8 L645.8,342.9 L647.4,350.6 L648.9,352.1 L650.4,344.5 L651.2,342.9" fill="none" stroke="#a4a4a4" stroke-width="0.95" stroke-linejoin="round"/>
<path d="M402.6,333.9 L403.4,336.9 L404.1,349 L405.2,355.1 L406.4,355.1 L407.7,353.5 L408.7,355.1 L409.8,352 L410.7,349.8 L411.8,350.6 L412.9,348.3 L414.1,353.5 L415.3,351.2 L416.4,350.6 L417.5,349 L418.7,346 L419.9,343 L421,346 L422,355.1 L423.3,359.5 L424.5,367.1 L425.7,376.2 L426.7,368.6 L428,359.5 L429.2,350.6 L430.3,341.5 L431.3,335.4 L432.2,336.9 L433.3,346 L434.4,358.1 L435.3,346 L436.4,352 L437.4,361.1 L438.8,374.6 L440.4,398.7 L441.4,421.4 L442.3,406.3 L443.4,376.1 L444,364.1 L445.1,349 L446.3,336.9 L447.5,336.9 L448.6,338.4 L449.4,352 L450,376.1 L451.1,391.2 L452.1,395.8 L453.4,379.2 L454.6,377.6 L455.7,391.2 L456.7,398.7 L458.1,404.8 L459.3,405.5 L460.3,401.8 L461.4,400.3 L462.3,407.8 L463.4,413.8 L464.5,412.3 L465.7,395.8 L466.9,380.7 L468,370.1 L469.1,367 L470,370.1 L471.1,383.6 L472.1,392.7 L473.3,380.7 L474.6,373.1 L475.6,374.6 L477.2,379.2 L478.7,383.6 L479.8,391.2 L481,406.3 L481.8,428.9 L482.8,413.8 L484.1,385.2 L485.6,379.2 L487.1,371.6 L488.3,379.2 L489.4,386.7 L491,395.8 L492.1,409.4 L493.3,421.4 L494.6,424.4 L495.6,432 L496.7,426 L497.9,422.9 L499.4,413.8 L500.7,411.2 L501.8,396.1 L502.9,387.1 L503.8,384.1 L504.9,382.5 L505.6,396.1 L506.4,417.3 L507.5,420.3 L508.7,421.8 L509.9,417.3 L510.5,406.7 L511.4,418.8 L512.5,429.3 L513.3,438.4 L514,430.9 L514.8,424.9 L516,423.3 L517.1,420.3 L518.2,420.3 L519.1,423.3 L520.2,411.2 L521.2,403.6 L522.4,403.6 L524.1,402.2 L525.3,403.6 L526.4,411.2 L527.4,421.8 L528.7,436.9 L529.9,426.3 L531,411.2 L532,400.7 L533.3,393.1 L534.5,387.1 L535.5,378 L536.1,359.2 L537.2,365.4 L538.1,385.7 L538.8,410.4 L539.7,420.3 L540.6,408.2 L541.7,399.2 L542.7,424.9 L544,405.2 L545.2,390.1 L546.3,399.2 L547.3,408.2 L548.5,400.7 L549.8,406.7 L550.8,417.3 L551.9,429.3 L552.8,435.4 L553.9,430.9 L555,432.4 L556.3,429.3 L557.5,412.7 L558.6,396.1 L559.7,390.1 L560.6,396.1 L561.6,403.6 L562.7,408.2 L563.9,414.2 L565.2,417.3 L566.2,411.2 L567.3,411.2 L568.5,415.8 L569.8,418.8 L570.8,411.2 L571.9,414.2 L573.1,412.7 L574.3,409.8 L575.4,399.2 L576.5,384.1 L577.7,370.9 L578.4,360.8 L579.6,348.7 L580.6,359.2 L581.7,374.3 L582.9,390.6 L583.9,403.3 L585.1,400.3 L586.6,400.3 L588.3,394.3 L589.2,372.9 L589.9,375.8 L590.9,407.8 L591.9,409.4 L593.2,406.3 L594.7,403.3 L596.2,398.7 L597.4,388.2 L598.3,376 L599.6,406.3 L600.5,413.8 L601.6,383.6 L602.6,397.2 L603.9,409.4 L605.1,404.8 L606.2,395.8 L607.2,386.7 L608.5,394.3 L609.7,403.3 L610.7,392.7 L611.8,391.2 L613,397.2 L614.3,404.8 L615.3,410.9 L616.4,412.3 L617.5,396.5 L619.1,378.1 L620.3,361.3 L621.4,361.3 L622.4,365.9 L623.3,375.1 L624.4,385.8 L625.5,381.2 L626.7,372 L627.5,370.5 L629,381.2 L630.1,390.4 L631.3,378.1 L632.5,361.3 L633.6,356.7 L634.7,365.9 L635.6,379.7 L636.7,370.5 L637.7,385.8 L638.6,396.5 L639.7,391.9 L640.8,378.1 L641.7,372 L642.8,365.9 L643.8,358.2 L644.8,353.7 L645.8,358.2 L646.9,362.8 L648.1,369 L649.3,375.1 L650.4,370.5 L651.2,365.1" fill="none" stroke="#000" stroke-width="1.4" stroke-linejoin="round"/>
<rect x="376.3" y="269.98" width="293" height="213.15" fill="none" stroke="#000" stroke-width="1.5"/>
<line x1="373.8" y1="483.12" x2="376.3" y2="483.12" stroke="#000" stroke-width="1.2"/>
<line x1="372.1" y1="467.9" x2="376.3" y2="467.9" stroke="#000" stroke-width="1.2"/>
<text x="371.7" y="470.55" class="ty" text-anchor="end">-40</text>
<line x1="373.8" y1="452.68" x2="376.3" y2="452.68" stroke="#000" stroke-width="1.2"/>
<line x1="372.1" y1="437.45" x2="376.3" y2="437.45" stroke="#000" stroke-width="1.2"/>
<text x="371.7" y="440.1" class="ty" text-anchor="end">-30</text>
<line x1="373.8" y1="422.23" x2="376.3" y2="422.23" stroke="#000" stroke-width="1.2"/>
<line x1="372.1" y1="407" x2="376.3" y2="407" stroke="#000" stroke-width="1.2"/>
<text x="371.7" y="409.65" class="ty" text-anchor="end">-20</text>
<line x1="373.8" y1="391.78" x2="376.3" y2="391.78" stroke="#000" stroke-width="1.2"/>
<line x1="372.1" y1="376.55" x2="376.3" y2="376.55" stroke="#000" stroke-width="1.2"/>
<text x="371.7" y="379.2" class="ty" text-anchor="end">-10</text>
<line x1="373.8" y1="361.33" x2="376.3" y2="361.33" stroke="#000" stroke-width="1.2"/>
<line x1="372.1" y1="346.1" x2="376.3" y2="346.1" stroke="#000" stroke-width="1.2"/>
<text x="371.7" y="348.75" class="ty" text-anchor="end">0</text>
<line x1="373.8" y1="330.88" x2="376.3" y2="330.88" stroke="#000" stroke-width="1.2"/>
<line x1="372.1" y1="315.65" x2="376.3" y2="315.65" stroke="#000" stroke-width="1.2"/>
<text x="371.7" y="318.3" class="ty" text-anchor="end">10</text>
<line x1="373.8" y1="300.43" x2="376.3" y2="300.43" stroke="#000" stroke-width="1.2"/>
<line x1="372.1" y1="285.2" x2="376.3" y2="285.2" stroke="#000" stroke-width="1.2"/>
<text x="371.7" y="287.85" class="ty" text-anchor="end">20</text>
<line x1="373.8" y1="269.98" x2="376.3" y2="269.98" stroke="#000" stroke-width="1.2"/>
<line x1="376.3" y1="483.12" x2="376.3" y2="487.32" stroke="#000" stroke-width="1.2"/>
<text x="376.3" y="497.12" class="tk" text-anchor="middle">Sep 9</text>
<line x1="412.62" y1="483.12" x2="412.62" y2="487.32" stroke="#000" stroke-width="1.2"/>
<text x="412.62" y="497.12" class="tk" text-anchor="middle">Oct 9</text>
<line x1="450.16" y1="483.12" x2="450.16" y2="487.32" stroke="#000" stroke-width="1.2"/>
<text x="450.16" y="497.12" class="tk" text-anchor="middle">Nov 9</text>
<line x1="486.48" y1="483.12" x2="486.48" y2="487.32" stroke="#000" stroke-width="1.2"/>
<text x="486.48" y="497.12" class="tk" text-anchor="middle">Dec 9</text>
<line x1="524.01" y1="483.12" x2="524.01" y2="487.32" stroke="#000" stroke-width="1.2"/>
<text x="524.01" y="497.12" class="tk" text-anchor="middle">Jan 9</text>
<line x1="561.54" y1="483.12" x2="561.54" y2="487.32" stroke="#000" stroke-width="1.2"/>
<text x="561.54" y="497.12" class="tk" text-anchor="middle">Feb 9</text>
<line x1="595.44" y1="483.12" x2="595.44" y2="487.32" stroke="#000" stroke-width="1.2"/>
<text x="595.44" y="497.12" class="tk" text-anchor="middle">Mar 9</text>
<line x1="632.98" y1="483.12" x2="632.98" y2="487.32" stroke="#000" stroke-width="1.2"/>
<text x="632.98" y="497.12" class="tk" text-anchor="middle">Apr 9</text>
<line x1="669.3" y1="483.12" x2="669.3" y2="487.32" stroke="#000" stroke-width="1.2"/>
<text x="669.3" y="497.12" class="tk" text-anchor="middle">May 9</text>
<line x1="533.6" y1="451.9" x2="553.2" y2="451.9" stroke="#bbb" stroke-width="1.8"/>
<line x1="533.6" y1="464.5" x2="553.2" y2="464.5" stroke="#111" stroke-width="1.5"/>
<text x="556.5" y="455.6" class="lg">maximum air temperature</text>
<text x="556.5" y="468.2" class="lg">minimum air temperature</text>
<text transform="translate(352.6,426.1) rotate(-90)" class="yl" xml:space="preserve" style="white-space:pre">temperature  (<tspan dx="0.3" font-weight="bold">°</tspan><tspan dx="-2.2" font-weight="bold">C</tspan> )</text>
<text x="520.8" y="519.6" class="tt" text-anchor="middle">Subalpine tundra</text>
</svg></body></html>
